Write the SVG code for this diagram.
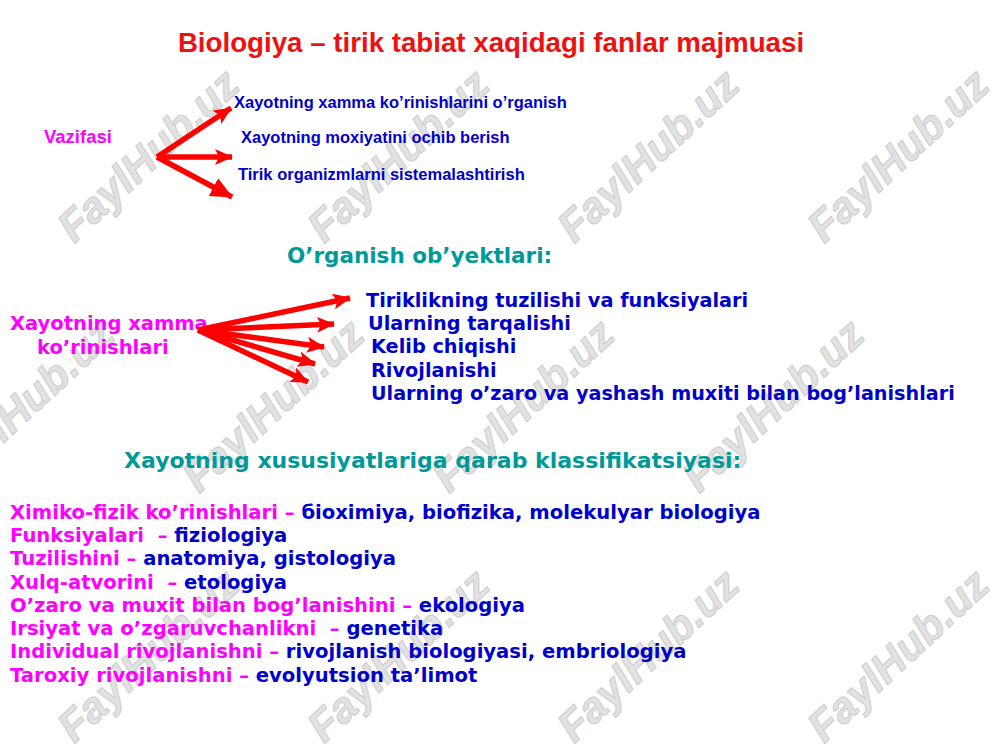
<svg xmlns="http://www.w3.org/2000/svg" width="1000" height="750" viewBox="0 0 1000 750">
<style>
.wm{font-family:"Liberation Sans",Arial,sans-serif;font-weight:bold;font-style:italic;font-size:43px;fill:#e2e2e2;stroke:#cdcdcd;stroke-width:1;text-anchor:middle}
.ar{font-family:"Liberation Sans",Arial,sans-serif;font-weight:bold}
.vd{font-family:"DejaVu Sans",Verdana,sans-serif;font-weight:bold;white-space:pre}
.red{fill:#ee1111}
.mag{fill:#ff00ff}
.blu{fill:#0000cc}
.teal{fill:#009999}
.conn line{stroke:#ff0000;stroke-width:5.5}
</style>
<defs>
<marker id="ah" viewBox="0 0 18 16" refX="17" refY="8" markerWidth="18" markerHeight="16" markerUnits="userSpaceOnUse" orient="auto">
<path d="M0,0 L18,8 L0,16 L4,8 z" fill="#ff0000"/>
</marker>
<marker id="ahb" viewBox="0 0 22 20" refX="21" refY="10" markerWidth="22" markerHeight="20" markerUnits="userSpaceOnUse" orient="auto">
<path d="M0,0 L22,10 L0,20 z" fill="#ff0000"/>
</marker>
</defs>
<rect width="1000" height="750" fill="#ffffff"/>
<g id="watermarks">
<text class="wm" transform="translate(158,166) rotate(-43)">FaylHub.uz</text>
<text class="wm" transform="translate(408,166) rotate(-43)">FaylHub.uz</text>
<text class="wm" transform="translate(658,166) rotate(-43)">FaylHub.uz</text>
<text class="wm" transform="translate(908,166) rotate(-43)">FaylHub.uz</text>
<text class="wm" transform="translate(33,416) rotate(-43)">FaylHub.uz</text>
<text class="wm" transform="translate(283,416) rotate(-43)">FaylHub.uz</text>
<text class="wm" transform="translate(533,416) rotate(-43)">FaylHub.uz</text>
<text class="wm" transform="translate(783,416) rotate(-43)">FaylHub.uz</text>
<text class="wm" transform="translate(158,666) rotate(-43)">FaylHub.uz</text>
<text class="wm" transform="translate(408,666) rotate(-43)">FaylHub.uz</text>
<text class="wm" transform="translate(658,666) rotate(-43)">FaylHub.uz</text>
<text class="wm" transform="translate(908,666) rotate(-43)">FaylHub.uz</text>
</g>
<g id="title"><text class="ar red" x="491" y="52" font-size="27.7" text-anchor="middle">Biologiya – tirik tabiat xaqidagi fanlar majmuasi</text></g>
<g id="vazifasi"><text class="ar mag" x="44" y="143" font-size="18.5">Vazifasi</text></g>
<g id="v1"><text class="ar blu" x="234" y="108" font-size="16.5">Xayotning xamma ko’rinishlarini o’rganish</text></g>
<g id="v2"><text class="ar blu" x="241" y="143" font-size="16.5">Xayotning moxiyatini ochib berish</text></g>
<g id="v3"><text class="ar blu" x="238" y="180" font-size="16.5">Tirik organizmlarni sistemalashtirish</text></g>
<g id="obyekt-title"><text class="vd teal" x="287" y="263" font-size="21.5">O’rganish ob’yektlari:</text></g>
<g id="xayot"><text class="vd mag" font-size="19.5"><tspan x="10" y="330">Xayotning xamma</tspan><tspan x="37" y="354">ko’rinishlari</tspan></text></g>
<g id="o1"><text class="vd blu" x="366" y="307" font-size="19.3">Tiriklikning tuzilishi va funksiyalari</text></g>
<g id="o2"><text class="vd blu" x="368" y="330" font-size="19.3">Ularning tarqalishi</text></g>
<g id="o3"><text class="vd blu" x="371" y="353" font-size="19.3">Kelib chiqishi</text></g>
<g id="o4"><text class="vd blu" x="371" y="377" font-size="19.3">Rivojlanishi</text></g>
<g id="o5"><text class="vd blu" x="371" y="400" font-size="19.2">Ularning o’zaro va yashash muxiti bilan bog’lanishlari</text></g>
<g id="klass-title"><text class="vd teal" x="124" y="468" font-size="22">Xayotning xususiyatlariga qarab klassifikatsiyasi:</text></g>
<g id="klass-list">
<text class="vd" font-size="19.6" x="10" y="519"><tspan class="mag">Ximiko-fizik ko’rinishlari – </tspan><tspan class="blu">бioximiya, biofizika, molekulyar biologiya</tspan></text>
<text class="vd" font-size="19.6" x="10" y="542"><tspan class="mag">Funksiyalari  – </tspan><tspan class="blu">fiziologiya</tspan></text>
<text class="vd" font-size="19.6" x="10" y="565"><tspan class="mag">Tuzilishini – </tspan><tspan class="blu">anatomiya, gistologiya</tspan></text>
<text class="vd" font-size="19.6" x="10" y="589"><tspan class="mag">Xulq-atvorini  – </tspan><tspan class="blu">etologiya</tspan></text>
<text class="vd" font-size="19.6" x="10" y="612"><tspan class="mag">O’zaro va muxit bilan bog’lanishini – </tspan><tspan class="blu">ekologiya</tspan></text>
<text class="vd" font-size="19.6" x="10" y="635"><tspan class="mag">Irsiyat va o’zgaruvchanlikni  – </tspan><tspan class="blu">genetika</tspan></text>
<text class="vd" font-size="19.6" x="10" y="658"><tspan class="mag">Individual rivojlanishni – </tspan><tspan class="blu">rivojlanish biologiyasi, embriologiya</tspan></text>
<text class="vd" font-size="19.6" x="10" y="682"><tspan class="mag">Taroxiy rivojlanishni – </tspan><tspan class="blu">evolyutsion ta’limot</tspan></text>
</g>
<g id="connectors" class="conn">
<line x1="157" y1="157" x2="231" y2="108" marker-end="url(#ah)"/>
<line x1="157" y1="157" x2="232" y2="157" marker-end="url(#ah)"/>
<line x1="157" y1="157" x2="232" y2="197" marker-end="url(#ahb)"/>
<line x1="198" y1="330" x2="350" y2="298" marker-end="url(#ah)"/>
<line x1="198" y1="330" x2="334" y2="324" marker-end="url(#ah)"/>
<line x1="198" y1="330" x2="324" y2="347" marker-end="url(#ah)"/>
<line x1="198" y1="330" x2="315" y2="364" marker-end="url(#ah)"/>
<line x1="198" y1="330" x2="308" y2="382" marker-end="url(#ah)"/>
</g>
</svg>
